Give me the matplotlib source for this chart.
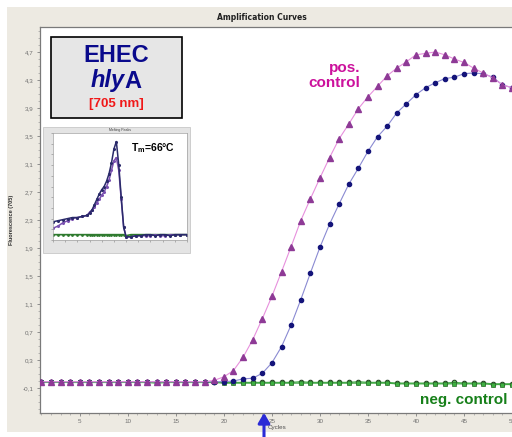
import numpy as np
import matplotlib
matplotlib.use("Agg")
import matplotlib.pyplot as plt
from matplotlib.patches import Rectangle
from matplotlib.ticker import FixedLocator, MultipleLocator

plt.rcParams['font.family'] = ['Liberation Sans', 'DejaVu Sans']

# amplification data (fluorescence 705 nm vs cycle)
cycles = list(range(1, 51))
pos_control = [-0.01, -0.01, -0.01, -0.01, -0.01, -0.01, -0.01, -0.01, -0.01, -0.01,
               -0.01, -0.01, -0.01, -0.01, -0.01, -0.01, -0.01, -0.01, 0.01, 0.06,
               0.15, 0.34, 0.59, 0.89, 1.21, 1.56, 1.92, 2.29, 2.60, 2.90,
               3.19, 3.46, 3.67, 3.89, 4.06, 4.21, 4.36, 4.47, 4.56, 4.66,
               4.68, 4.70, 4.66, 4.60, 4.55, 4.47, 4.40, 4.33, 4.23, 4.19]
sample = [-0.01, -0.01, -0.01, -0.01, -0.01, -0.01, -0.01, -0.01, -0.01, -0.01,
          -0.01, -0.01, -0.01, -0.01, -0.01, -0.01, -0.01, -0.01, -0.01, -0.01,
          0.00, 0.03, 0.04, 0.11, 0.26, 0.49, 0.80, 1.16, 1.54, 1.91,
          2.24, 2.53, 2.81, 3.04, 3.28, 3.49, 3.64, 3.83, 3.96, 4.09,
          4.19, 4.26, 4.32, 4.34, 4.39, 4.40, 4.39, 4.34, 4.23, 4.19]
neg_a = [-0.02, -0.02, -0.02, -0.02, -0.02, -0.02, -0.02, -0.02, -0.02, -0.02,
         -0.02, -0.02, -0.03, -0.02, -0.02, -0.02, -0.02, -0.02, -0.02, -0.03,
         -0.03, -0.03, -0.03, -0.03, -0.03, -0.03, -0.03, -0.03, -0.03, -0.03,
         -0.03, -0.03, -0.03, -0.03, -0.03, -0.03, -0.03, -0.04, -0.04, -0.04,
         -0.04, -0.04, -0.04, -0.04, -0.04, -0.04, -0.04, -0.05, -0.05, -0.05]
neg_b = [-0.01, -0.01, -0.01, -0.02, -0.02, -0.02, -0.02, -0.02, -0.02, -0.01,
         -0.02, -0.02, -0.02, -0.02, -0.02, -0.02, -0.02, -0.02, -0.02, -0.02,
         -0.02, -0.02, -0.02, -0.02, -0.02, -0.02, -0.02, -0.01, -0.02, -0.02,
         -0.02, -0.02, -0.02, -0.01, -0.02, -0.02, -0.02, -0.03, -0.03, -0.03,
         -0.03, -0.03, -0.03, -0.02, -0.03, -0.03, -0.03, -0.04, -0.04, -0.04]

y_ticks = [-0.1, 0.3, 0.7, 1.1, 1.5, 1.9, 2.3, 2.7, 3.1, 3.5, 3.9, 4.3, 4.7]
x_ticks = [5, 10, 15, 20, 25, 30, 35, 40, 45, 50]

# melting peak inset (-dF/dT vs temperature)
melt_temp = [40, 42, 44, 46, 48, 50, 52, 54, 55, 56, 57, 58, 59, 60, 61, 62, 63, 64, 65, 66, 67,
             68, 69, 70, 72, 74, 76, 78, 80, 82, 84, 86, 88, 90, 92, 95]
melt_hi = [0.17, 0.18, 0.19, 0.20, 0.21, 0.21, 0.22, 0.23, 0.25, 0.28, 0.33, 0.38, 0.43, 0.47,
           0.50, 0.55, 0.62, 0.72, 0.85, 0.92, 0.70, 0.40, 0.12, 0.03, 0.03, 0.04, 0.04, 0.05,
           0.05, 0.04, 0.05, 0.05, 0.04, 0.05, 0.05, 0.05]
melt_lo = [0.11, 0.13, 0.16, 0.18, 0.20, 0.21, 0.22, 0.23, 0.26, 0.28, 0.31, 0.35, 0.38, 0.42,
           0.45, 0.50, 0.56, 0.65, 0.74, 0.77, 0.65, 0.38, 0.12, 0.03, 0.03, 0.04, 0.04, 0.04,
           0.04, 0.05, 0.04, 0.04, 0.05, 0.05, 0.05, 0.05]
melt_neg = [0.05, 0.05, 0.05, 0.05, 0.05, 0.05, 0.05, 0.05, 0.05, 0.05, 0.05, 0.05, 0.05, 0.05,
            0.05, 0.05, 0.05, 0.05, 0.05, 0.05, 0.05, 0.05, 0.05, 0.04, 0.05, 0.05, 0.05, 0.05,
            0.05, 0.05, 0.05, 0.05, 0.05, 0.05, 0.05, 0.05]

W, H = 512, 437
fig = plt.figure(figsize=(W / 100, H / 100), dpi=100)
fig.patch.set_facecolor('white')


def fx(px):
    return px / W


def fy(py):
    return 1 - py / H


# beige window panel
fig.patches.append(Rectangle((fx(7), fy(432)), fx(505), 425 / H, transform=fig.transFigure,
                             facecolor='#EDEAE2', edgecolor='none', zorder=0))

ax = fig.add_axes([fx(39.5), fy(413), 1 - fx(39.5), (413 - 27) / H])
ax.set_zorder(2)
ax.set_facecolor('white')

ax.plot(cycles, neg_b, '-', color='#4CB050', lw=0.9, marker='o', ms=3.3,
        mfc='#5BBF5B', mec='#1F3A1F', mew=0.7, zorder=3)
ax.plot(cycles, neg_a, '-', color='#3FA843', lw=0.9, marker='s', ms=2.8,
        mfc='#3DB040', mec='#2A6A2A', mew=0.5, zorder=3)
ax.plot(cycles, sample, '-', color='#8A8AD2', lw=0.8, marker='o', ms=3.0,
        mfc='#14147A', mec='#14147A', zorder=4)
ax.plot(cycles, pos_control, '-', color='#E790DD', lw=0.8, marker='^', ms=3.7,
        mfc='#8E3A96', mec='#8E3A96', zorder=5)

ax.set_xlim(0.8, 50.0)
ax.set_ylim(-0.457, 5.057)
ax.yaxis.set_major_locator(FixedLocator(y_ticks))
ax.set_yticklabels([f'{v:.1f}'.replace('.', ',') for v in y_ticks])
ax.yaxis.set_minor_locator(MultipleLocator(0.1))
ax.xaxis.set_major_locator(FixedLocator(x_ticks))
ax.xaxis.set_minor_locator(MultipleLocator(1))
ax.tick_params(axis='both', which='major', labelsize=4.5, labelcolor='#707070',
               color='#808080', length=2.5, width=0.6, pad=2)
ax.tick_params(axis='both', which='minor', color='#A0A0A0', length=1.5, width=0.5)
for side in ['left', 'bottom', 'top']:
    ax.spines[side].set_color('#7A7A7A')
    ax.spines[side].set_linewidth(0.9)
ax.spines['right'].set_visible(False)

fig.text(fx(262), fy(17), 'Amplification Curves', family='DejaVu Sans', fontsize=5.5,
         fontweight='bold', ha='center', va='center', color='#202020')
fig.text(fx(12), fy(220), 'Fluorescence (705)', fontsize=4, fontweight='bold',
         rotation=90, ha='center', va='center', color='#303030')
fig.text(fx(277), fy(427), 'Cycles', fontsize=4.5, ha='center', va='center', color='#505050')

# labels on the curves
fig.text(fx(360), fy(68), 'pos.', fontsize=11, fontweight='bold', color='#CC119C',
         ha='right', va='center', zorder=8)
fig.text(fx(360), fy(83), 'control', fontsize=11, fontweight='bold', color='#CC119C',
         ha='right', va='center', zorder=8)
fig.text(fx(508), fy(400), 'neg. control', fontsize=11, fontweight='bold', color='#17801A',
         ha='right', va='center', zorder=8)

# EHEC box
fig.patches.append(Rectangle((fx(51), fy(118)), fx(131), 81 / H, transform=fig.transFigure,
                             facecolor='#E6E6E6', edgecolor='black', lw=1.2, zorder=6))
fig.text(fx(116), fy(56), 'EHEC', fontsize=17, fontweight='bold', color='#0A0A8C',
         ha='center', va='center', zorder=7)
fig.text(fx(125), fy(81), 'hly', fontsize=17, fontweight='bold', fontstyle='italic',
         color='#0A0A8C', ha='right', va='center', zorder=7)
fig.text(fx(124), fy(81), 'A', fontsize=17, fontweight='bold', color='#0A0A8C',
         ha='left', va='center', zorder=7)
fig.text(fx(116), fy(104), '[705 nm]', fontsize=9.5, fontweight='bold', color='#F01818',
         ha='center', va='center', zorder=7)

# melting peak inset
fig.patches.append(Rectangle((fx(43), fy(253)), fx(147), 126 / H, transform=fig.transFigure,
                             facecolor='#E4E4E4', edgecolor='#C8C8C8', lw=0.6, zorder=6))
ins = fig.add_axes([fx(53), fy(240), fx(134), 107 / H], zorder=7)
ins.set_facecolor('white')
ins.plot(melt_temp, melt_neg, '-', color='#2E7A2E', lw=1.2, marker='o', ms=1.0)
ins.plot(melt_temp, melt_lo, '-', color='#7A50B0', lw=1.1, marker='o', ms=1.2, mfc='#9070C0')
ins.plot(melt_temp, melt_hi, '-', color='#2A2A6A', lw=1.1, marker='o', ms=1.2, mfc='#5050A0')
ins.set_xlim(40, 95)
ins.set_ylim(0, 1)
ins.xaxis.set_major_locator(MultipleLocator(5))
ins.yaxis.set_major_locator(MultipleLocator(0.1))
ins.tick_params(labelbottom=False, labelleft=False, length=1.5, width=0.4, color='#808080')
for s in ins.spines.values():
    s.set_color('#A0A0A0')
    s.set_linewidth(0.5)
ins.set_title('Melting Peaks', fontsize=2.5, pad=1.5, color='#404040')
ins.text(0.58, 0.86, r'T$_\mathregular{m}$=66°C', transform=ins.transAxes, fontsize=7.5,
         fontweight='bold', ha='left', va='center', color='black')

# arrow marking Ct
arrow = fig.add_artist(plt.Annotation(
    '', xy=(fx(264), fy(410)), xytext=(fx(264), fy(440)),
    xycoords='figure fraction', textcoords='figure fraction',
    arrowprops=dict(arrowstyle='-|>,head_width=0.35,head_length=0.6',
                    color='#2B2BD6', lw=2.2)))
arrow.set_zorder(10)

fig.savefig('out.png', dpi=100, facecolor=fig.get_facecolor())
